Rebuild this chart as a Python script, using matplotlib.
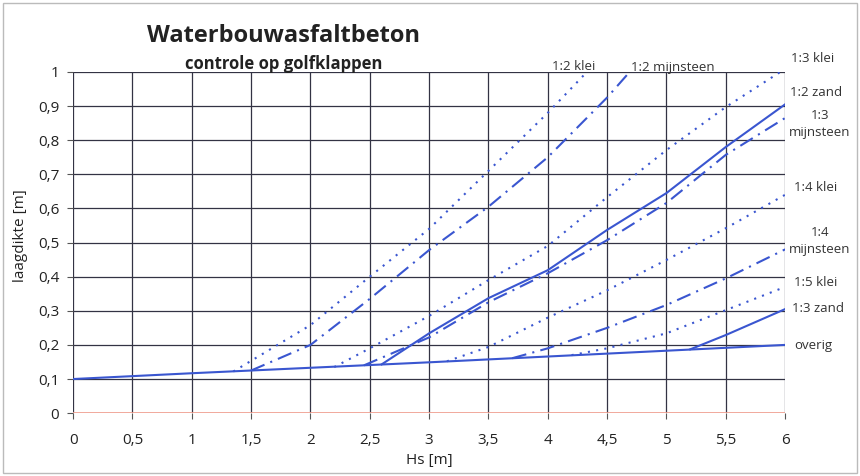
import matplotlib.pyplot as plt
from matplotlib.ticker import MultipleLocator, FuncFormatter

plt.rcParams['font.family'] = ['Open Sans', 'DejaVu Sans']

BLUE = '#3a56d0'

# values
overig_x = [0, 1, 2, 3, 4, 5, 6]
overig_y = [0.100, 0.117, 0.133, 0.149, 0.166, 0.183, 0.200]

klei_12_x = [1.35, 2.0, 2.5, 3.0, 3.5, 4.0, 4.33]
klei_12_y = [0.122, 0.258, 0.40, 0.54, 0.71, 0.88, 1.0]

mijn_12_x = [1.5, 2.0, 2.5, 3.0, 3.5, 4.0, 4.5, 4.69]
mijn_12_y = [0.125, 0.200, 0.335, 0.478, 0.605, 0.75, 0.925, 1.0]

klei_13_x = [2.2, 2.5, 3.0, 3.5, 4.0, 4.5, 5.0, 5.5, 5.96]
klei_13_y = [0.135, 0.19, 0.285, 0.39, 0.49, 0.633, 0.771, 0.897, 1.0]

zand_12_x = [2.6, 3.0, 3.5, 4.0, 4.5, 5.0, 5.5, 6.0]
zand_12_y = [0.143, 0.234, 0.337, 0.419, 0.537, 0.645, 0.78, 0.905]

mijn_13_x = [2.45, 3.0, 3.5, 4.0, 4.5, 5.0, 5.5, 6.0]
mijn_13_y = [0.140, 0.222, 0.325, 0.41, 0.507, 0.616, 0.757, 0.865]

klei_14_x = [3.15, 3.5, 4.0, 4.5, 5.0, 5.5, 6.0]
klei_14_y = [0.152, 0.194, 0.28, 0.36, 0.449, 0.542, 0.64]

mijn_14_x = [3.7, 4.0, 4.5, 5.0, 5.5, 6.0]
mijn_14_y = [0.161, 0.19, 0.25, 0.317, 0.395, 0.48]

klei_15_x = [4.2, 4.5, 5.0, 5.5, 6.0]
klei_15_y = [0.170, 0.19, 0.234, 0.302, 0.37]

zand_13_x = [5.2, 5.5, 6.0]
zand_13_y = [0.187, 0.229, 0.305]

dotted = (0, (1, 3))
dashdot = (0, (7, 3, 1, 3))

series = [
    (overig_x, overig_y, '-'),
    (klei_12_x, klei_12_y, dotted),
    (mijn_12_x, mijn_12_y, dashdot),
    (klei_13_x, klei_13_y, dotted),
    (zand_12_x, zand_12_y, '-'),
    (mijn_13_x, mijn_13_y, dashdot),
    (klei_14_x, klei_14_y, dotted),
    (mijn_14_x, mijn_14_y, dashdot),
    (klei_15_x, klei_15_y, dotted),
    (zand_13_x, zand_13_y, '-'),
]

fig = plt.figure(figsize=(8.6, 4.76), dpi=100)
ax = fig.add_axes([0.085, 0.132, 0.828, 0.717])

for xs, ys, ls in series:
    ax.plot(xs, ys, color=BLUE, linestyle=ls, linewidth=1.5)

ax.axhline(0, color='#f4a090', linewidth=1.2, zorder=3)

ax.set_xlim(0, 6)
ax.set_ylim(0, 1)
ax.xaxis.set_major_locator(MultipleLocator(0.5))
ax.yaxis.set_major_locator(MultipleLocator(0.1))
comma = FuncFormatter(lambda v, p: ('%g' % round(v, 2)).replace('.', ','))
ax.xaxis.set_major_formatter(comma)
ax.yaxis.set_major_formatter(comma)
ax.grid(True, color='#333344', linewidth=0.9)
ax.set_axisbelow(True)
for s in ax.spines.values():
    s.set_visible(False)
ax.tick_params(length=4, color='#555555', labelsize=11, labelcolor='#222222')
ax.tick_params(axis='x', pad=10)
ax.tick_params(axis='y', pad=6)

ax.set_xlabel('Hs [m]', fontsize=11, color='#222222', labelpad=4)
ax.set_ylabel('laagdikte [m]', fontsize=11, color='#222222')
ax.yaxis.set_label_coords(-0.063, 0.52)

fig.text(0.33, 0.925, 'Waterbouwasfaltbeton', fontsize=17, fontweight='bold',
         ha='center', va='center', color='#222222')
fig.text(0.33, 0.866, 'controle op golfklappen', fontsize=12, fontweight='bold',
         ha='center', va='center', color='#222222')

labels = [
    ('1:2 klei', 574, 67),
    ('1:2 mijnsteen', 673, 67),
    ('1:3 klei', 813, 59),
    ('1:2 zand', 816, 93),
    ('1:3\nmijnsteen', 820, 124),
    ('1:4 klei', 816, 188),
    ('1:4\nmijnsteen', 820, 241),
    ('1:5 klei', 816, 282),
    ('1:3 zand', 818, 309),
    ('overig', 813, 346),
]
for txt, px, py in labels:
    fig.text(px / 860, 1 - py / 476, txt, fontsize=9.5, ha='center', va='center',
             color='#333333', linespacing=1.4)

fig.patches.append(plt.Rectangle((0.003, 0.006), 0.994, 0.988, transform=fig.transFigure,
                                 fill=False, edgecolor='#bbbbbb', linewidth=1))

fig.savefig('out.png', dpi=100)
plt.close()
